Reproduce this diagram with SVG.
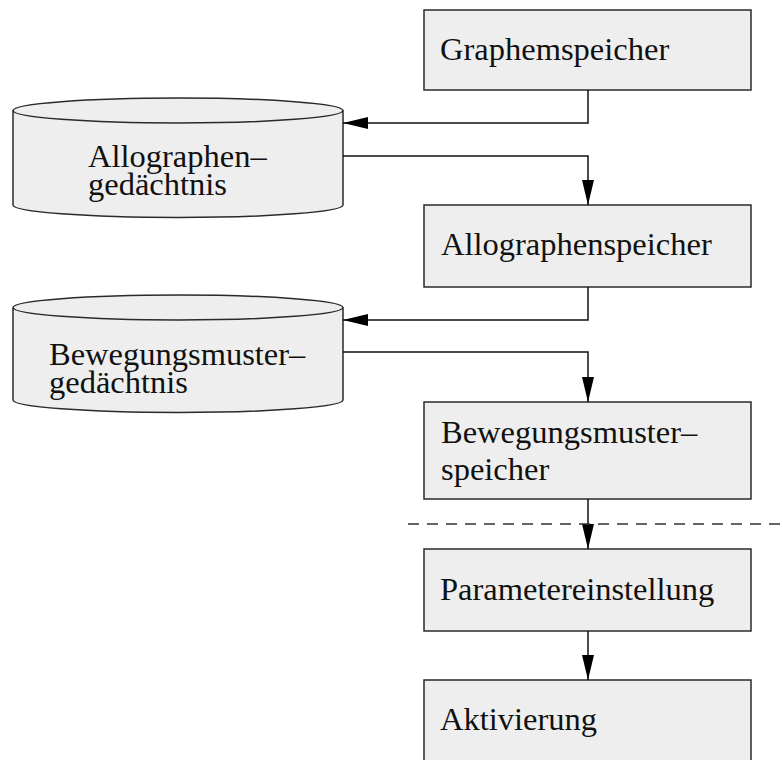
<svg xmlns="http://www.w3.org/2000/svg" width="783" height="760" viewBox="0 0 783 760">
<style>
.box{fill:#eeeeee;stroke:#2a2a2a;stroke-width:1.5}
.t{font-family:"Liberation Serif","Times New Roman",serif;font-size:32.5px;fill:#111}
.c{fill:none;stroke:#111;stroke-width:1.5}
.dash{fill:none;stroke:#333;stroke-width:1.5;stroke-dasharray:11 8}
</style>
<defs>
<marker id="ah" viewBox="0 0 25 12" refX="25" refY="6" markerWidth="25" markerHeight="12" markerUnits="userSpaceOnUse" orient="auto">
<path d="M0,0 L25,6 L0,12 Z" fill="#000"/>
</marker>
</defs>
<rect width="783" height="760" fill="#fff"/>
<g id="graphemspeicher">
<rect class="box" x="424" y="10" width="327" height="80"/>
<text class="t" x="440" y="60">Graphemspeicher</text>
</g>
<g id="allographengedaechtnis">
<path class="box" d="M13,110.5 L13,205 A165,12.5 0 0 0 343,205 L343,110.5"/>
<ellipse class="box" cx="178" cy="110.5" rx="165" ry="12.5"/>
<text class="t" x="88" y="167">Allographen–</text>
<text class="t" x="88" y="195">gedächtnis</text>
</g>
<g id="allographenspeicher">
<rect class="box" x="424" y="205" width="327" height="82"/>
<text class="t" x="441" y="255">Allographenspeicher</text>
</g>
<g id="bewegungsmustergedaechtnis">
<path class="box" d="M13,307.5 L13,400 A165,12.5 0 0 0 343,400 L343,307.5"/>
<ellipse class="box" cx="178" cy="307.5" rx="165" ry="12.5"/>
<text class="t" x="49" y="365">Bewegungsmuster–</text>
<text class="t" x="49" y="393">gedächtnis</text>
</g>
<g id="bewegungsmusterspeicher">
<rect class="box" x="424" y="402" width="327" height="97"/>
<text class="t" x="441" y="443">Bewegungsmuster–</text>
<text class="t" x="441" y="480">speicher</text>
</g>
<g id="parametereinstellung">
<rect class="box" x="424" y="549" width="327" height="82"/>
<text class="t" x="440" y="600">Parametereinstellung</text>
</g>
<g id="aktivierung">
<rect class="box" x="424" y="680" width="327" height="100"/>
<text class="t" x="440" y="730">Aktivierung</text>
</g>
<g id="connectors">
<path class="c" d="M588,90 L588,123 L343,123" marker-end="url(#ah)"/>
<path class="c" d="M343,156 L588,156 L588,205" marker-end="url(#ah)"/>
<path class="c" d="M588,287 L588,320 L343,320" marker-end="url(#ah)"/>
<path class="c" d="M343,352 L588,352 L588,402" marker-end="url(#ah)"/>
<path class="c" d="M588,499 L588,549" marker-end="url(#ah)"/>
<path class="c" d="M588,631 L588,680" marker-end="url(#ah)"/>
<line class="dash" x1="408" y1="524" x2="783" y2="524"/>
</g>
</svg>
